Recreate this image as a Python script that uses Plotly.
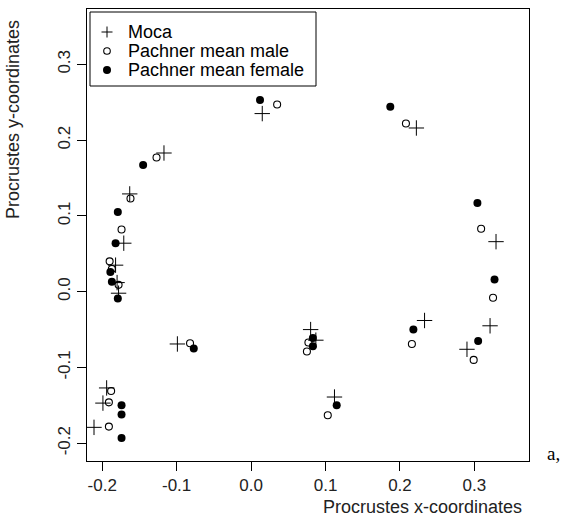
import plotly.graph_objects as go

# Procrustes coordinates
moca_x = [-0.117, -0.163, -0.171, -0.182, -0.180, -0.178, -0.194, -0.199, -0.211,
          0.015, 0.222, 0.329, 0.321, 0.290, 0.233, 0.080, 0.087, 0.112, -0.099]
moca_y = [0.183, 0.129, 0.064, 0.035, 0.012, -0.002, -0.127, -0.147, -0.179,
          0.235, 0.216, 0.066, -0.045, -0.076, -0.038, -0.050, -0.064, -0.139, -0.069]

male_x = [-0.127, -0.162, -0.174, -0.190, -0.187, -0.178, -0.188, -0.191, -0.191,
          0.035, 0.208, 0.309, 0.325, 0.299, 0.216, 0.077, 0.075, 0.103, -0.082]
male_y = [0.177, 0.123, 0.082, 0.040, 0.030, 0.009, -0.131, -0.146, -0.178,
          0.247, 0.222, 0.083, -0.008, -0.090, -0.069, -0.067, -0.079, -0.163, -0.068]

female_x = [-0.145, -0.179, -0.182, -0.189, -0.187, -0.179, -0.174, -0.174, -0.174,
            0.012, 0.187, 0.304, 0.327, 0.305, 0.218, 0.083, 0.083, 0.115, -0.077]
female_y = [0.167, 0.105, 0.064, 0.026, 0.013, -0.009, -0.150, -0.162, -0.193,
            0.253, 0.244, 0.117, 0.016, -0.065, -0.050, -0.061, -0.072, -0.150, -0.075]

series_names = ["Moca", "Pachner mean male", "Pachner mean female"]

tick_vals = [-0.2, -0.1, 0.0, 0.1, 0.2, 0.3]
tick_text = ["-0.2", "-0.1", "0.0", "0.1", "0.2", "0.3"]

FONT = "Liberation Sans, Arial, sans-serif"

# plot-area pixel box
L, R, T, B = 87, 529, 9, 461
W, H = R - L, B - T


def px(xp):
    return (xp - L) / W


def py(yp):
    return (B - yp) / H


fig = go.Figure()
fig.add_trace(go.Scatter(x=moca_x, y=moca_y, mode="markers", name=series_names[0],
                         marker=dict(symbol="cross-thin", size=11, color="black",
                                     line=dict(color="black", width=1))))
fig.add_trace(go.Scatter(x=male_x, y=male_y, mode="markers", name=series_names[1],
                         marker=dict(symbol="circle-open", size=7, color="black",
                                     line=dict(color="black", width=1.1))))
fig.add_trace(go.Scatter(x=female_x, y=female_y, mode="markers", name=series_names[2],
                         marker=dict(symbol="circle", size=8, color="black",
                                     line=dict(width=0))))

axis_common = dict(
    showgrid=False, zeroline=False, showline=True, mirror=True,
    linecolor="black", linewidth=1, ticks="outside", ticklen=9,
    tickcolor="black", tickwidth=1, tickvals=tick_vals, ticktext=tick_text,
    tickfont=dict(family=FONT, size=17, color="#222"),
)

annotations = [
    dict(text="Procrustes x-coordinates", xref="paper", yref="paper",
         x=px(422), y=py(507), xanchor="center", yanchor="middle",
         showarrow=False, font=dict(family=FONT, size=18, color="#222")),
    dict(text="Procrustes y-coordinates", xref="paper", yref="paper",
         x=px(13), y=py(120), xanchor="center", yanchor="middle",
         textangle=-90, showarrow=False, font=dict(family=FONT, size=18, color="#222")),
    dict(text="a,", xref="paper", yref="paper",
         x=px(553), y=py(453), xanchor="center", yanchor="middle",
         showarrow=False, font=dict(family="Liberation Serif, Times New Roman, serif",
                                    size=19, color="black")),
]

# manual legend (compact R-style rows)
row_y = [32, 51, 70]
key_x = 107
shapes = [dict(type="rect", xref="paper", yref="paper",
               x0=px(90), x1=px(316), y0=py(86), y1=py(12),
               line=dict(color="black", width=1), fillcolor="white", layer="above")]
for name, ry in zip(series_names, row_y):
    annotations.append(dict(text=name, xref="paper", yref="paper", x=px(126), y=py(ry),
                            xanchor="left", yanchor="middle", showarrow=False,
                            font=dict(family=FONT, size=18, color="black")))
# key symbols: plus, open circle, filled circle
shapes += [
    dict(type="line", xref="paper", yref="paper", x0=px(key_x - 5.5), x1=px(key_x + 5.5),
         y0=py(row_y[0]), y1=py(row_y[0]), line=dict(color="black", width=1), layer="above"),
    dict(type="line", xref="paper", yref="paper", x0=px(key_x), x1=px(key_x),
         y0=py(row_y[0] - 5.5), y1=py(row_y[0] + 5.5), line=dict(color="black", width=1), layer="above"),
    dict(type="circle", xref="paper", yref="paper", x0=px(key_x - 3.3), x1=px(key_x + 3.3),
         y0=py(row_y[1] + 3.3), y1=py(row_y[1] - 3.3), line=dict(color="black", width=1.1),
         fillcolor="white", layer="above"),
    dict(type="circle", xref="paper", yref="paper", x0=px(key_x - 4), x1=px(key_x + 4),
         y0=py(row_y[2] + 4), y1=py(row_y[2] - 4), line=dict(color="black", width=0),
         fillcolor="black", layer="above"),
]

fig.update_layout(
    width=588, height=517,
    margin=dict(l=L, r=588 - R, t=T, b=517 - B),
    plot_bgcolor="white", paper_bgcolor="white",
    xaxis=dict(range=[-0.2204, 0.3733], **axis_common),
    yaxis=dict(range=[-0.2234, 0.373], tickangle=-90, **axis_common),
    showlegend=False,
    shapes=shapes,
    annotations=annotations,
)

fig.write_html("out.html")
